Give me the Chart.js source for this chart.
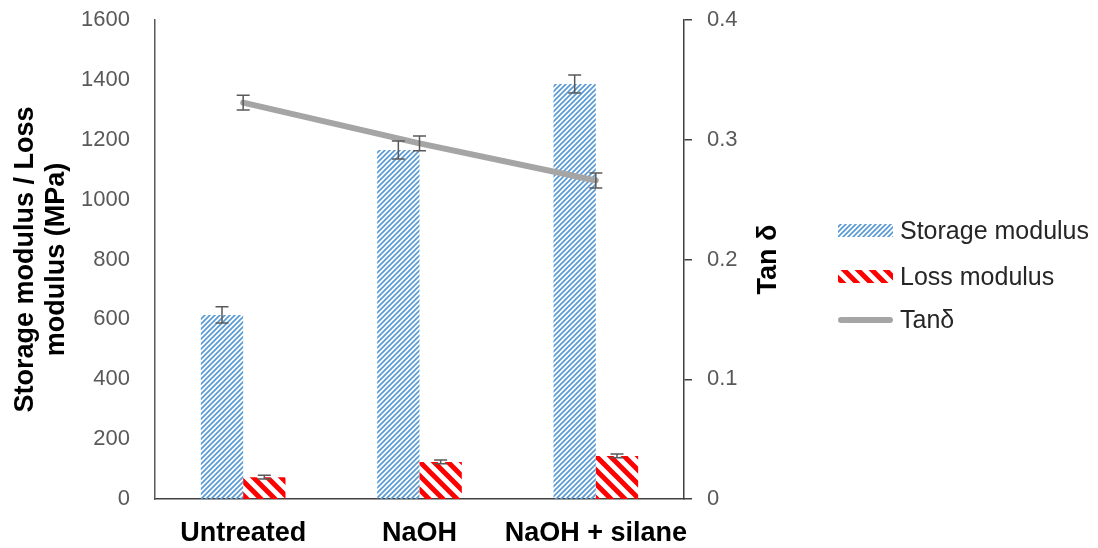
<!DOCTYPE html>
<html>
<head>
<meta charset="utf-8">
<script src="https://cdn.jsdelivr.net/npm/chart.js@4/dist/chart.umd.min.js"></script>
<style>
  html, body { margin: 0; padding: 0; background: #fff; }
  #wrap { width: 1098px; height: 548px; position: relative; }
</style>
</head>
<body>
<div id="wrap"><canvas id="c" width="1098" height="548"></canvas></div>
<script>
// ---- data ----
const categories = ['Untreated', 'NaOH', 'NaOH + silane'];
const storageModulus = [615, 1166, 1386];
const storageErr = [27, 30, 30];
const lossModulus = [73, 124, 144];
const lossErr = [6, 6, 6];
const tanDelta = [0.331, 0.297, 0.266];
const tanErr = [0.0062, 0.0062, 0.0062];
const leftTicks = ['0', '200', '400', '600', '800', '1000', '1200', '1400', '1600'];
const rightTicks = ['0', '0.1', '0.2', '0.3', '0.4'];

const FONT = "'Liberation Sans', Arial, sans-serif";

function makePattern(size, color, lineWidth, dir) {
  const c = document.createElement('canvas');
  c.width = size; c.height = size;
  const g = c.getContext('2d');
  g.strokeStyle = color;
  g.lineWidth = lineWidth;
  g.beginPath();
  const s = size;
  if (dir === 'up') { // "/" : x + y = k*s
    [0, 1, 2].forEach(k => { g.moveTo(k * s + s, -s); g.lineTo(k * s - 2 * s, 2 * s); });
  } else { // "\" : x - y = k*s
    [-1, 0, 1].forEach(k => { g.moveTo(k * s - s, -s); g.lineTo(k * s + 2 * s, 2 * s); });
  }
  g.stroke();
  return document.getElementById('c').getContext('2d').createPattern(c, 'repeat');
}

const bluePattern = makePattern(5, '#5b9bd5', 1.7, 'up');
const redPattern = makePattern(14, '#ff0000', 5, 'down');

const errorBarPlugin = {
  id: 'errorBars',
  afterDatasetsDraw(chart) {
    const ctx = chart.ctx;
    ctx.save();
    ctx.strokeStyle = '#595959';
    ctx.lineWidth = 1.5;
    chart.data.datasets.forEach((ds, i) => {
      if (!ds.errors) return;
      const meta = chart.getDatasetMeta(i);
      const scale = chart.scales[ds.yAxisID];
      meta.data.forEach((el, j) => {
        const v = ds.data[j], e = ds.errors[j];
        const x = el.x;
        const yTop = scale.getPixelForValue(v + e);
        const yBot = scale.getPixelForValue(v - e);
        const cap = 6.5;
        ctx.beginPath();
        ctx.moveTo(x, yTop); ctx.lineTo(x, yBot);
        ctx.moveTo(x - cap, yTop); ctx.lineTo(x + cap, yTop);
        ctx.moveTo(x - cap, yBot); ctx.lineTo(x + cap, yBot);
        ctx.stroke();
      });
    });
    ctx.restore();
  }
};

const extrasPlugin = {
  id: 'extras',
  afterDraw(chart) {
    const ctx = chart.ctx;
    const area = chart.chartArea;
    ctx.save();
    // right axis title
    ctx.font = "bold 27px " + FONT;
    ctx.fillStyle = '#000';
    ctx.textAlign = 'center';
    ctx.textBaseline = 'middle';
    ctx.translate(area.right + 85, (area.top + area.bottom) / 2);
    ctx.rotate(-Math.PI / 2);
    ctx.fillText('Tan δ', 0, 0);
    ctx.restore();

    // legend
    ctx.save();
    const x0 = 838, sw = 55;
    const ys = [231, 277, 320];
    chart.data.datasets.slice().sort((a, b) => a.legendOrder - b.legendOrder).forEach((ds, k) => {
      const y = ys[k];
      if (ds.type === 'line') {
        ctx.strokeStyle = ds.borderColor;
        ctx.lineWidth = 6;
        ctx.lineCap = 'round';
        ctx.beginPath();
        ctx.moveTo(x0 + 3, y); ctx.lineTo(x0 + sw - 3, y);
        ctx.stroke();
      } else {
        ctx.fillStyle = ds.backgroundColor;
        ctx.fillRect(x0, y - 7, sw, 13);
      }
      ctx.font = "25px " + FONT;
      ctx.fillStyle = '#262626';
      ctx.textAlign = 'left';
      ctx.textBaseline = 'middle';
      ctx.fillText(ds.label, x0 + sw + 7, y + 1);
    });
    ctx.restore();
  }
};

function noVPad(s) { s.paddingTop = 0; s.paddingBottom = 0; }

new Chart(document.getElementById('c'), {
  data: {
    labels: categories,
    datasets: [
      {
        type: 'line', label: 'Tanδ', data: tanDelta, errors: tanErr, yAxisID: 'y1',
        borderColor: '#a5a5a5', borderWidth: 6, pointRadius: 0, tension: 0,
        borderCapStyle: 'round', order: 0, legendOrder: 2, fill: false
      },
      {
        type: 'bar', label: 'Storage modulus', data: storageModulus, errors: storageErr, yAxisID: 'y',
        backgroundColor: bluePattern, borderWidth: 0, order: 1, legendOrder: 0,
        categoryPercentage: 0.48, barPercentage: 1
      },
      {
        type: 'bar', label: 'Loss modulus', data: lossModulus, errors: lossErr, yAxisID: 'y',
        backgroundColor: redPattern, borderWidth: 0, order: 1, legendOrder: 1,
        categoryPercentage: 0.48, barPercentage: 1
      }
    ]
  },
  options: {
    responsive: false,
    animation: false,
    events: [],
    layout: { padding: { left: 0, top: 20, right: 314, bottom: 0 } },
    plugins: { legend: { display: false }, tooltip: { enabled: false } },
    scales: {
      x: {
        grid: { display: false, drawTicks: false },
        border: { display: true, color: '#404040', width: 1.5 },
        ticks: { font: { family: FONT, size: 27, weight: 'bold' }, color: '#000', padding: 18,
          maxRotation: 0, autoSkip: false },
        afterFit: s => { s.height = 49; }
      },
      y: {
        position: 'left', min: 0, max: 1600,
        afterBuildTicks: s => { s.ticks = leftTicks.map(t => ({ value: parseFloat(t) })); },
        ticks: { font: { family: FONT, size: 22 }, color: '#595959', padding: 25,
          callback: (v, i) => leftTicks[i] },
        grid: { display: false, drawTicks: false },
        border: { display: true, color: '#595959', width: 1.5 },
        title: {
          display: true, text: ['Storage modulus / Loss', 'modulus (MPa)'],
          font: { family: FONT, size: 27, weight: 'bold', lineHeight: 1.15 },
          color: '#000', padding: { top: 10, bottom: 0 }
        },
        afterFit: s => { s.width = 155; noVPad(s); }
      },
      y1: {
        position: 'right', min: 0, max: 0.4,
        afterBuildTicks: s => { s.ticks = rightTicks.map(t => ({ value: parseFloat(t) })); },
        ticks: { font: { family: FONT, size: 22 }, color: '#595959', padding: 15,
          callback: (v, i) => rightTicks[i] },
        grid: { display: true, drawOnChartArea: false, drawTicks: true, tickLength: 8, color: '#404040', lineWidth: 1.5 },
        border: { display: true, color: '#404040', width: 1.5 },
        afterFit: s => { s.width = 100; noVPad(s); }
      }
    }
  },
  plugins: [errorBarPlugin, extrasPlugin]
});
</script>
</body>
</html>
